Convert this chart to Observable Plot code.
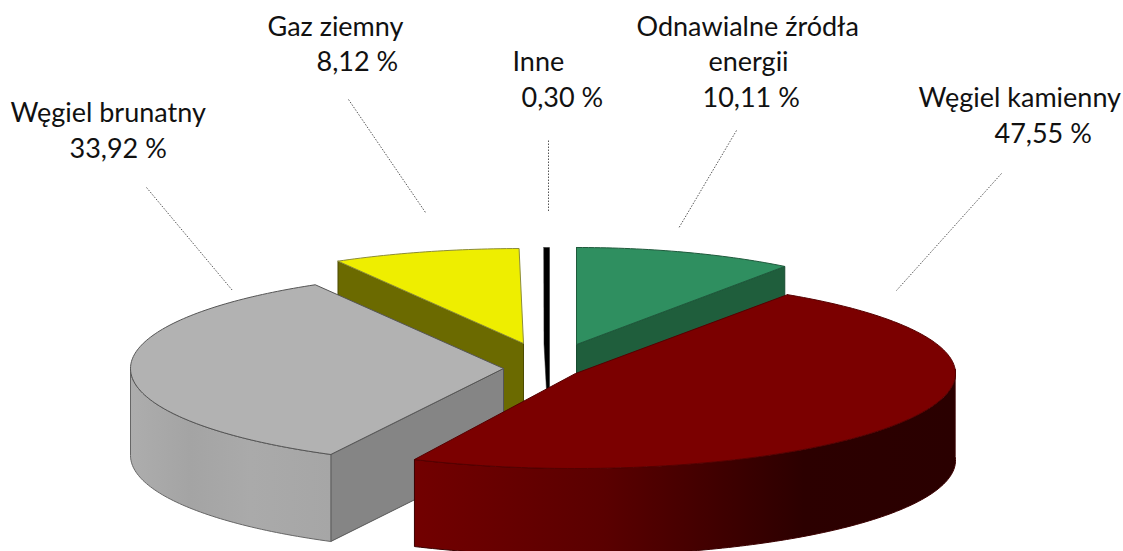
<!DOCTYPE html>
<html lang="pl">
<head>
<meta charset="utf-8">
<script src="https://cdn.jsdelivr.net/npm/d3@7"></script>
<script src="https://cdn.jsdelivr.net/npm/@observablehq/plot@0.6"></script>
<style>
html,body{margin:0;padding:0;background:#fff}
svg{display:block}
</style>
</head>
<body>
<div id="chart"></div>
<script>
// Data (clockwise from 12 o'clock, in the order of the chart)
const categories = ["Odnawialne źródła energii", "Węgiel kamienny", "Węgiel brunatny", "Gaz ziemny", "Inne"];
const shares = [10.11, 47.55, 33.92, 8.12, 0.30];

// Cumulative angles derived from the shares
const total = d3.sum(shares);
const cum = d3.cumsum(shares);
const angle = i => [(i ? cum[i - 1] : 0) / total * 360, cum[i] / total * 360];

// Exploded 3-D look: per-slice centre, radii and rotation
const DEPTH = 87;
const view = [
  {cx: 576, cy: 344, a: 351, b: 97, rot: 0},     // OZE
  {cx: 575, cy: 373, a: 380, b: 95, rot: -2.5},  // kamienny
  {cx: 503, cy: 368, a: 373, b: 97, rot: 0},     // brunatny
  {cx: 523, cy: 343, a: 372, b: 95, rot: 0.4},   // gaz
  {cx: 549, cy: 343, a: 305, b: 96, rot: 0}      // inne
];
const pt = (v, deg, dz = 0) => {
  const t = (deg + v.rot) * Math.PI / 180;
  return [v.cx + v.a * Math.sin(t), v.cy - v.b * Math.cos(t) + dz];
};
const arc = (v, from, to, dz = 0) => {
  const n = Math.max(2, Math.ceil(Math.abs(to - from)));
  return d3.range(n + 1).map(k => pt(v, from + (to - from) * k / n, dz));
};
const wedge = i => {
  const [s, e] = angle(i), v = view[i];
  return [...arc(v, s, e), [v.cx, v.cy]];
};
const wall = (i, deg) => {
  const v = view[i], p = pt(v, deg), q = pt(v, deg, DEPTH);
  return [[v.cx, v.cy], p, q, [v.cx, v.cy + DEPTH]];
};
const rim = (i, from, to) => {
  const v = view[i];
  return [...arc(v, from, to), ...arc(v, to, from, DEPTH)];
};
const poly = (points, fill, stroke, strokeWidth = 1) =>
  Plot.line([...points, points[0]], {x: d => d[0], y: d => d[1], fill, stroke, strokeWidth, strokeLinejoin: "round", curve: "linear"});

// Gradients
const defs = () => {
  const s = d3.create("svg:defs");
  const grad = (id, stops) => {
    const g = s.append("linearGradient").attr("id", id).attr("x1", 0).attr("x2", 1).attr("y1", 0).attr("y2", 0);
    stops.forEach(([o, c]) => g.append("stop").attr("offset", o).attr("stop-color", c));
  };
  grad("redRim", [[0, "#720000"], [0.35, "#5a0000"], [0.72, "#2c0000"], [1, "#2a0000"]]);
  grad("greyRim", [[0, "#adadad"], [0.3, "#a4a4a4"], [0.6, "#aaaaaa"], [1, "#a6a6a6"]]);
  return s.node();
};

// Labels: one line per row, placed as in the reference
const fmt = v => v.toFixed(2).replace(".", ",") + " %";
const labelRows = [
  {text: "Gaz ziemny", x: 267, y: 27},
  {text: fmt(shares[3]), x: 316, y: 62},
  {text: "Inne", x: 512, y: 62},
  {text: fmt(shares[4]), x: 521, y: 98},
  {text: "Odnawialne źródła", x: 636, y: 27},
  {text: "energii", x: 708, y: 62},
  {text: fmt(shares[0]), x: 702, y: 98},
  {text: "Węgiel kamienny", x: 918, y: 98},
  {text: fmt(shares[1]), x: 994, y: 134},
  {text: "Węgiel brunatny", x: 10, y: 113},
  {text: fmt(shares[2]), x: 69, y: 149}
];
const leaders = [
  {x1: 146, y1: 187, x2: 232, y2: 290},
  {x1: 348, y1: 99, x2: 425, y2: 212},
  {x1: 548, y1: 140, x2: 548, y2: 212},
  {x1: 736, y1: 130, x2: 678, y2: 228},
  {x1: 1001, y1: 173, x2: 896, y2: 290}
];

// Slice indexes
const [OZE, KAM, BRU, GAZ, INN] = [0, 1, 2, 3, 4];
const vInn = view[INN], [sInn, eInn] = angle(INN);

const chart = Plot.plot({
  width: 1123,
  height: 551,
  margin: 0,
  x: {domain: [0, 1123], range: [0, 1123], axis: null},
  y: {domain: [0, 551], range: [0, 551], axis: null},
  style: {background: "#fff", fontFamily: "Lato, 'Open Sans', sans-serif"},
  marks: [
    defs,
    Plot.link(leaders, {x1: "x1", y1: "y1", x2: "x2", y2: "y2", stroke: "#555", strokeWidth: 1, strokeDasharray: "1.5 1.5"}),
    // Gaz ziemny
    poly(wall(GAZ, angle(GAZ)[0]), "#6b6a00", "#4c4b00"),
    poly(wedge(GAZ), "#eeee00", "#8c8c3a"),
    // Inne
    poly([...arc(vInn, sInn, eInn), [vInn.cx, vInn.cy + 47], [vInn.cx - 3, vInn.cy + 47], [vInn.cx - 5.5, vInn.cy]], "#000", "#222", 0.5),
    // OZE
    poly(wall(OZE, angle(OZE)[1]), "#1f5e3c", "#174a2f"),
    poly(wedge(OZE), "#2f8f60", "#1f5a3c"),
    // Węgiel brunatny
    poly(wall(BRU, angle(BRU)[0]), "#858585", "#555"),
    poly(rim(BRU, angle(BRU)[0], 270), "url(#greyRim)", "#666"),
    poly(wedge(BRU), "#b2b2b2", "#555"),
    // Węgiel kamienny
    poly(rim(KAM, 90, angle(KAM)[1]), "url(#redRim)", "#3a0000"),
    poly(wedge(KAM), "#7b0000", "#560000"),
    Plot.text(labelRows, {x: "x", y: "y", text: "text", textAnchor: "start", fontSize: 27, fill: "#111"})
  ]
});
document.getElementById("chart").append(chart);
</script>
</body>
</html>
